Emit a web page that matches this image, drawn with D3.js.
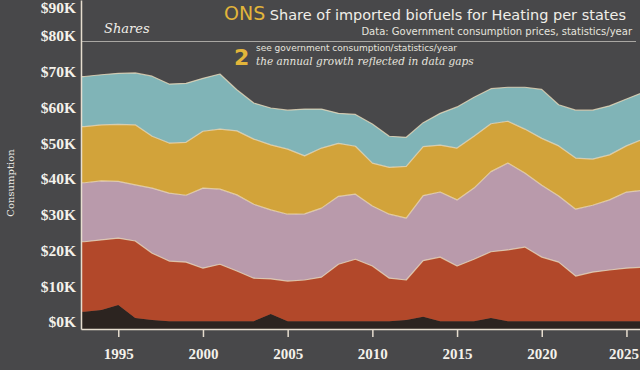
<!DOCTYPE html>
<html>
<head>
<meta charset="utf-8">
<script src="https://cdn.jsdelivr.net/npm/d3@7"></script>
<style>
  body { margin: 0; background: #48484a; }
</style>
</head>
<body>
<div id="chart-area"></div>
<script>
// yearly values, stacked bottom to top
var years = [1992, 1993, 1994, 1995, 1996, 1997, 1998, 1999, 2000, 2001, 2002, 2003,
  2004, 2005, 2006, 2007, 2008, 2009, 2010, 2011, 2012, 2013, 2014, 2015, 2016,
  2017, 2018, 2019, 2020, 2021, 2022, 2023, 2024, 2025, 2026];
var other = [4.8, 4.8, 5.3, 6.7, 3.1, 2.5, 2.2, 2.2, 2.2, 2.2, 2.2, 2.2, 4.2, 2.2, 2.2,
  2.2, 2.2, 2.2, 2.2, 2.2, 2.5, 3.4, 2.2, 2.2, 2.2, 3.1, 2.2, 2.2, 2.2, 2.2, 2.2, 2.2,
  2.2, 2.2, 2.2];
var oil = [19.6, 19.6, 19.6, 18.7, 21.5, 18.7, 16.8, 16.5, 14.8, 15.9, 14.0, 12.0, 9.8,
  11.2, 11.5, 12.3, 15.9, 17.3, 15.4, 12.0, 11.2, 15.7, 17.9, 15.4, 17.3, 18.5, 19.9,
  20.7, 17.9, 16.5, 12.6, 13.7, 14.3, 14.8, 15.1];
var coal = [16.5, 16.5, 16.5, 15.9, 15.7, 18.2, 19.0, 18.7, 22.4, 21.0, 21.3, 20.7, 19.3,
  18.7, 18.5, 19.3, 19.0, 18.2, 16.8, 17.9, 17.3, 18.2, 18.2, 18.5, 19.9, 22.4, 24.3,
  20.7, 20.1, 18.5, 18.7, 18.7, 19.6, 21.3, 21.5];
var gas = [15.7, 15.7, 15.7, 15.9, 16.8, 14.5, 14.0, 14.8, 15.9, 16.8, 17.9, 18.2, 18.2,
  18.2, 16.2, 16.8, 14.8, 13.4, 12.0, 13.1, 14.5, 13.7, 13.1, 14.5, 14.5, 13.4, 11.7,
  12.3, 13.1, 14.0, 14.3, 12.9, 12.6, 12.9, 14.3];
var hydro = [14.0, 14.0, 14.0, 14.3, 14.5, 16.8, 16.5, 16.5, 14.8, 15.4, 11.5, 10.1, 10.3,
  10.9, 13.1, 10.9, 8.4, 8.9, 10.9, 8.7, 8.1, 6.7, 8.9, 11.5, 10.9, 9.8, 9.5, 11.7,
  13.7, 11.5, 13.4, 13.7, 13.7, 13.1, 13.1];

var seriesNames = ["Other", "Oil", "Coal", "Gas", "Hydro"];
var seriesColors = ["#2c2420", "#b2482a", "#b99aab", "#d2a33a", "#80b4b7"];
var xTicks = [1995, 2000, 2005, 2010, 2015, 2020, 2025];
var yTicks = [0, 10, 20, 30, 40, 50, 60, 70, 80, 90];

var table = years.map((yr, i) => ({
  year: yr, Other: other[i], Oil: oil[i], Coal: coal[i], Gas: gas[i], Hydro: hydro[i]
}));

var svg = d3.select("#chart-area")
  .append("svg")
  .attr("width", 640)
  .attr("height", 370)
  .style("background-color", "#48484a")
  .style("display", "block");

var x = d3.scaleLinear()
  .domain([1992.8, 2025.8])
  .range([81, 640]);

var y = d3.scaleLinear()
  .domain([0, 92])
  .range([329, 0]);

var color = d3.scaleOrdinal()
  .domain(seriesNames)
  .range(seriesColors);

var layers = d3.stack().keys(seriesNames)(table);

svg.append("clipPath")
  .attr("id", "plot-clip")
  .append("rect")
  .attr("x", 81)
  .attr("y", 0)
  .attr("width", 559)
  .attr("height", 329);

var area = d3.area()
  .x(d => x(d.data.year))
  .y0(d => y(d[0]))
  .y1(d => y(d[1]));

var topLine = d3.line()
  .x(d => x(d.data.year))
  .y(d => y(d[1]));

var plot = svg.append("g").attr("clip-path", "url(#plot-clip)");

plot.selectAll("path.layer")
  .data(layers)
  .enter()
  .append("path")
  .attr("class", "layer")
  .attr("d", area)
  .attr("fill", d => color(d.key));

plot.selectAll("path.edge")
  .data(layers.slice(1))
  .enter()
  .append("path")
  .attr("class", "edge")
  .attr("d", topLine)
  .attr("fill", "none")
  .attr("stroke", "#f2dfbd")
  .attr("stroke-opacity", 0.75)
  .attr("stroke-width", 1.2)
  .attr("stroke-linejoin", "round");

// header rule
svg.append("line")
  .attr("x1", 81).attr("x2", 636)
  .attr("y1", 41.5).attr("y2", 41.5)
  .attr("stroke", "#a9a7a3")
  .attr("stroke-width", 1.2);

// axes
var xAxisCall = d3.axisBottom(x)
  .tickValues(xTicks)
  .tickFormat(d3.format("d"))
  .tickSize(8)
  .tickSizeOuter(0)
  .tickPadding(11);
var xg = svg.append("g")
  .attr("class", "x axis")
  .attr("transform", "translate(0,329)")
  .call(xAxisCall);
xg.selectAll("text")
  .attr("fill", "#f4f1ea")
  .attr("font-family", "Liberation Serif")
  .attr("font-weight", "bold")
  .attr("font-size", "15px");
// last label sits against the right edge
xg.selectAll(".tick")
  .filter(d => d === xTicks[xTicks.length - 1])
  .select("text")
  .attr("text-anchor", "end")
  .attr("x", 12);

var yAxisCall = d3.axisLeft(y)
  .tickValues(yTicks)
  .tickSize(0)
  .tickPadding(5)
  .tickFormat(d => "$" + d + "K");
var yg = svg.append("g")
  .attr("class", "y axis")
  .attr("transform", "translate(81,0)")
  .call(yAxisCall);
yg.selectAll("text")
  .attr("y", d => d === yTicks[yTicks.length - 1] ? 0 : -7)
  .attr("fill", "#f4f1ea")
  .attr("font-family", "Liberation Serif")
  .attr("font-weight", "bold")
  .attr("font-size", "15.5px");

svg.selectAll(".domain, .tick line")
  .attr("stroke", "#e6ddcf")
  .attr("stroke-width", 1.5);

svg.append("text")
  .attr("class", "y axis-label")
  .attr("x", -183)
  .attr("y", 14)
  .attr("transform", "rotate(-90)")
  .attr("text-anchor", "middle")
  .attr("font-family", "DejaVu Serif")
  .attr("font-size", "10px")
  .attr("fill", "#ecebe6")
  .text("Consumption");

// titles
svg.append("text")
  .attr("x", 104)
  .attr("y", 33)
  .attr("font-family", "DejaVu Serif")
  .attr("font-style", "italic")
  .attr("font-size", "13px")
  .attr("fill", "#f0eee8")
  .text("Shares");

var title = svg.append("text")
  .attr("x", 224)
  .attr("y", 20)
  .attr("font-family", "DejaVu Sans")
  .attr("fill", "#f0eee8");
title.append("tspan")
  .attr("font-size", "19px")
  .attr("fill", "#e2b53a")
  .text("ONS");
title.append("tspan")
  .attr("font-size", "14.5px")
  .text(" Share of imported biofuels for Heating per states");

svg.append("text")
  .attr("x", 632)
  .attr("y", 35)
  .attr("text-anchor", "end")
  .attr("font-family", "DejaVu Sans")
  .attr("font-size", "10px")
  .attr("fill", "#e6e4de")
  .text("Data: Government consumption prices, statistics/year");

svg.append("text")
  .attr("x", 234)
  .attr("y", 65)
  .attr("font-family", "DejaVu Sans")
  .attr("font-weight", "bold")
  .attr("font-size", "22px")
  .attr("fill", "#e2b53a")
  .text("2");

svg.append("text")
  .attr("x", 256)
  .attr("y", 51)
  .attr("font-family", "DejaVu Sans")
  .attr("font-size", "9px")
  .attr("fill", "#e6e4de")
  .text("see government consumption/statistics/year");

svg.append("text")
  .attr("x", 256)
  .attr("y", 65)
  .attr("font-family", "DejaVu Serif")
  .attr("font-style", "italic")
  .attr("font-size", "10.5px")
  .attr("fill", "#e6e4de")
  .text("the annual growth reflected in data gaps");
</script>
</body>
</html>
